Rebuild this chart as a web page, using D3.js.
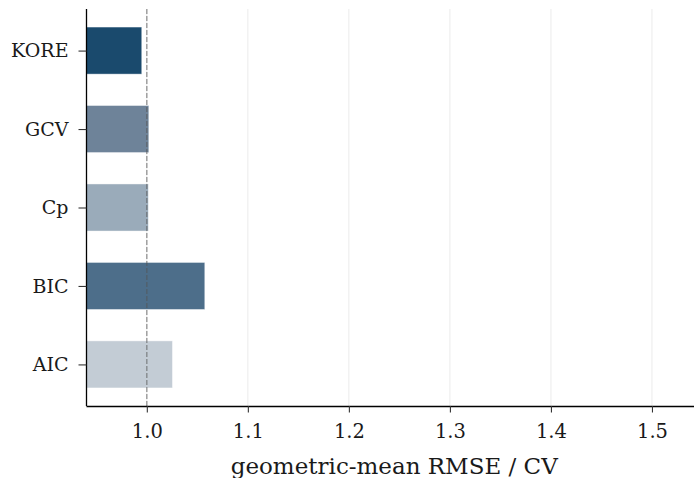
<!DOCTYPE html>
<html>
<head>
<meta charset="utf-8">
<script src="https://cdn.jsdelivr.net/npm/d3@7"></script>
<style>
  html, body { margin: 0; padding: 0; background: #fff; }
  svg { display: block; }
  text { font-family: "DejaVu Serif", serif; fill: #1a1a1a; }
</style>
</head>
<body>
<svg id="chart" width="695" height="478"></svg>
<script>
// Model-selection criteria, bottom to top
const categories = ["AIC", "BIC", "Cp", "GCV", "KORE"];
const values = [1.0254, 1.0574, 1.0015, 1.002, 0.995];
const barColors = ["#c3ccd5", "#4d6e8a", "#9aabba", "#6e8399", "#1a4a6d"];
const xTicks = [1.0, 1.1, 1.2, 1.3, 1.4, 1.5];
const xDomain = [0.9403, 1.5416];
const referenceValue = 1.0;
const xLabel = "geometric-mean RMSE / CV";

(function draw() {
  const svg = d3.select("#chart");
  const plotLeft = 86.5, plotRight = 694, plotTop = 9, plotBottom = 406;

  const x = d3.scaleLinear().domain(xDomain).range([plotLeft, plotRight]);
  const y = d3.scaleLinear().domain([-0.53, categories.length - 1 + 0.53]).range([plotBottom, plotTop]);
  const barH = y(0) - y(0.6);

  // vertical grid
  svg.append("g")
    .selectAll("line")
    .data(xTicks)
    .join("line")
    .attr("x1", d => x(d)).attr("x2", d => x(d))
    .attr("y1", plotTop).attr("y2", plotBottom)
    .attr("stroke", "#ebebeb")
    .attr("stroke-width", 1);

  // bars
  svg.append("g")
    .selectAll("rect")
    .data(categories)
    .join("rect")
    .attr("x", x(xDomain[0]))
    .attr("y", (d, i) => y(i) - barH / 2)
    .attr("width", (d, i) => x(values[i]) - x(xDomain[0]))
    .attr("height", barH)
    .attr("fill", (d, i) => barColors[i])
    .attr("stroke", "#ffffff")
    .attr("stroke-opacity", 0.55)
    .attr("stroke-width", 0.8);

  // reference line at 1.0
  svg.append("line")
    .attr("x1", x(referenceValue)).attr("x2", x(referenceValue))
    .attr("y1", plotTop).attr("y2", plotBottom)
    .attr("stroke", "#555")
    .attr("stroke-opacity", 0.6)
    .attr("stroke-width", 1.3)
    .attr("stroke-dasharray", "5,2");

  // x axis
  const xAxis = d3.axisBottom(x).tickValues(xTicks).tickFormat(d3.format(".1f"))
    .tickSize(6.5).tickPadding(12);
  const gx = svg.append("g").attr("transform", `translate(0,${plotBottom})`).call(xAxis);
  gx.select(".domain").attr("stroke", "#000").attr("stroke-width", 1.3)
    .attr("d", `M${plotLeft},0.5H${plotRight}`);
  gx.selectAll(".tick line").attr("stroke", "#333").attr("stroke-width", 1.1);
  gx.selectAll(".tick text")
    .attr("font-family", "DejaVu Serif")
    .attr("font-size", 19.5)
    .attr("fill", "#1a1a1a");

  // y axis
  const yAxis = d3.axisLeft(y).tickValues(d3.range(categories.length))
    .tickFormat(i => categories[i]).tickSize(8).tickPadding(10);
  const gy = svg.append("g").attr("transform", `translate(${plotLeft},0)`).call(yAxis);
  gy.select(".domain").attr("stroke", "#000").attr("stroke-width", 1.3)
    .attr("d", `M0.0,${plotTop}V${plotBottom}`);
  gy.selectAll(".tick line").attr("stroke", "#333").attr("stroke-width", 1.1);
  gy.selectAll(".tick text")
    .attr("font-family", "DejaVu Serif")
    .attr("font-size", 19)
    .attr("fill", "#1a1a1a");

  // axis label
  svg.append("text")
    .attr("x", (plotLeft + plotRight) / 2 + 4)
    .attr("y", 474)
    .attr("text-anchor", "middle")
    .attr("font-size", 23)
    .text(xLabel);
})();
</script>
</body>
</html>
